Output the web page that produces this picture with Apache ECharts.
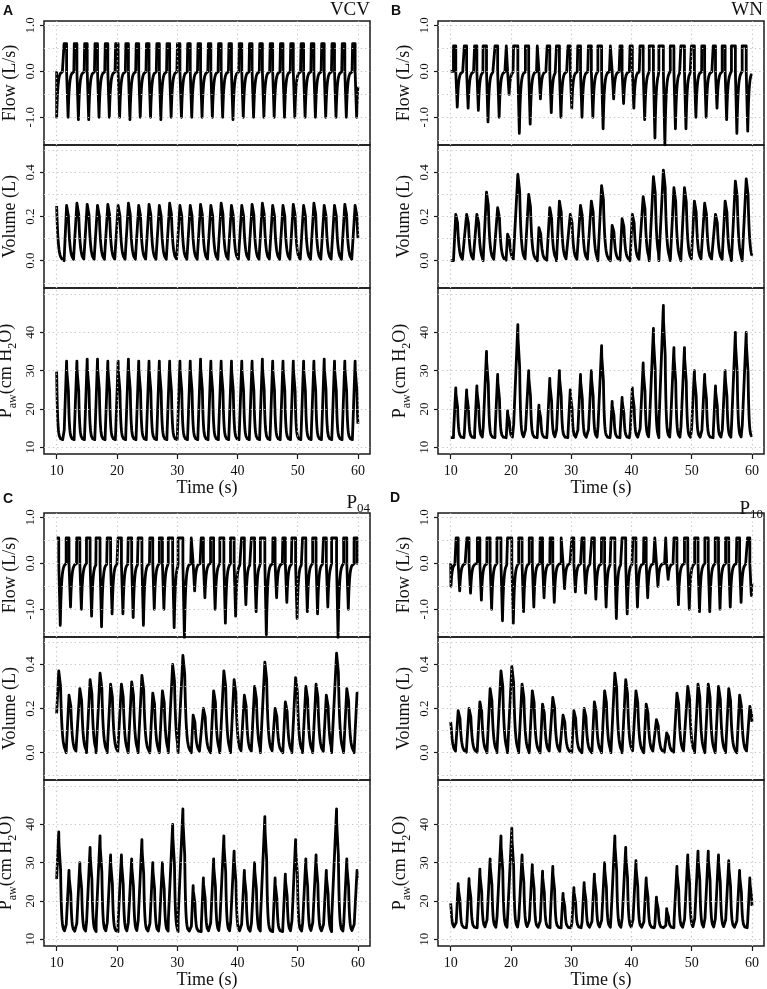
<!DOCTYPE html>
<html>
<head>
<meta charset="utf-8">
<script src="https://cdn.jsdelivr.net/npm/echarts@6/dist/echarts.min.js"></script>
<style>
html,body{margin:0;padding:0;background:#fff;}
#chart{width:767px;height:989px;}
</style>
</head>
<body>
<div id="chart"></div>
<script>
// ---------------- DATA ----------------
const timeTicks = [10, 20, 30, 40, 50, 60];
const flowTicks = [-1, 0, 1];
const volTicks = [0, 0.2, 0.4];
const pawTicks = [10, 20, 30, 40];
const flowGridVals = [-1.5, -1, -0.5, 0, 0.5, 1];
const volGridVals = [-0.1, 0, 0.1, 0.2, 0.3, 0.4, 0.5];
const pawGridVals = [10, 20, 30, 40, 50];

// Panel A (VCV): expiration-onset times (s), tidal volume peaks (L), Paw peaks (cmH2O), expiratory flow minima (L/s)
const A_exp  = [10.0, 11.9, 13.61, 15.32, 17.03, 18.74, 20.45, 22.16, 23.87, 25.58, 27.29, 29.0, 30.71, 32.42, 34.13, 35.84, 37.55, 39.26, 40.97, 42.68, 44.39, 46.1, 47.81, 49.52, 51.23, 52.94, 54.65, 56.36, 58.07, 59.78];
const A_vol  = [0.25, 0.25, 0.26, 0.255, 0.25, 0.255, 0.25, 0.26, 0.25, 0.255, 0.25, 0.26, 0.25, 0.25, 0.255, 0.25, 0.26, 0.25, 0.25, 0.255, 0.26, 0.25, 0.25, 0.255, 0.25, 0.26, 0.25, 0.25, 0.255, 0.25];
const A_paw  = [32.5, 32.5, 32.5, 33, 33, 32.5, 32.5, 33, 32.5, 32.5, 32.5, 32.5, 32.5, 32.5, 33, 32.5, 32.5, 32.5, 32.5, 32.5, 33, 32.5, 32.5, 32.5, 32.5, 32.5, 33, 32.5, 32.5, 32.5];
const A_flow = [-1.0, -1.0, -1.05, -1.05, -1.0, -1.0, -1.0, -1.05, -1.0, -1.0, -1.05, -1.0, -1.0, -1.0, -1.0, -1.0, -1.0, -1.05, -1.0, -1.0, -1.0, -1.0, -1.0, -1.0, -1.0, -1.0, -1.0, -1.0, -1.0, -1.0];

// Panel B (WN)
const B_exp  = [11.1, 12.9, 14.6, 16.2, 18.05, 19.7, 21.4, 23.2, 24.9, 26.7, 28.3, 30.1, 31.8, 33.6, 35.3, 37.05, 38.7, 40.4, 42.2, 43.9, 45.55, 47.3, 49.05, 50.7, 52.4, 54.2, 55.8, 57.5, 59.3];
const B_vol  = [0.21, 0.21, 0.21, 0.31, 0.24, 0.12, 0.39, 0.30, 0.15, 0.24, 0.27, 0.21, 0.25, 0.27, 0.34, 0.16, 0.19, 0.21, 0.29, 0.38, 0.41, 0.33, 0.33, 0.27, 0.26, 0.21, 0.27, 0.36, 0.37];
const B_paw  = [25.5, 25, 26, 35, 29, 19.5, 42, 30, 21, 28, 30, 25, 29, 30, 36.5, 22, 23, 25.5, 32, 41, 47, 36, 36, 30, 29, 26, 30, 40, 40];
const B_flow = [-0.78, -0.8, -0.85, -1.1, -1.0, -0.5, -1.35, -1.15, -0.6, -0.9, -1.0, -0.8, -1.0, -1.0, -1.25, -0.6, -0.7, -0.8, -1.05, -1.45, -1.6, -1.25, -1.25, -1.0, -1.0, -0.8, -1.05, -1.35, -1.3];

// Panel C (P04)
const C_exp  = [10.6, 12.3, 14.1, 15.8, 17.45, 19.2, 21.0, 22.7, 24.4, 26.2, 27.8, 29.5, 31.2, 32.9, 34.6, 36.3, 38.0, 39.7, 41.4, 43.1, 44.8, 46.5, 48.2, 49.9, 51.6, 53.3, 55.0, 56.7, 58.4, 60.1];
const C_vol  = [0.37, 0.26, 0.29, 0.33, 0.36, 0.31, 0.31, 0.32, 0.35, 0.27, 0.28, 0.40, 0.44, 0.17, 0.20, 0.28, 0.37, 0.33, 0.26, 0.30, 0.41, 0.20, 0.23, 0.34, 0.30, 0.31, 0.26, 0.45, 0.29, 0.27];
const C_paw  = [38, 28, 30, 34, 37, 32, 32, 31, 36, 30, 30, 40, 44, 24, 26, 31, 37, 33, 28, 30, 42, 26, 27, 36, 31, 32, 28, 44, 31, 28];
const C_flow = [-1.35, -0.95, -1.0, -1.15, -1.38, -1.1, -1.1, -1.18, -1.35, -1.0, -1.0, -1.4, -1.62, -0.6, -0.75, -1.0, -1.3, -1.15, -0.9, -1.05, -1.55, -0.75, -0.85, -1.2, -1.05, -1.1, -0.95, -1.62, -1.0, -0.95];

// Panel D (P10)
const D_exp  = [10.05, 11.5, 13.3, 15.1, 16.8, 18.6, 20.4, 22.1, 23.8, 25.5, 27.2, 28.9, 30.7, 32.4, 34.1, 35.8, 37.5, 39.3, 41.0, 42.7, 44.4, 46.1, 47.8, 49.6, 51.3, 53.0, 54.7, 56.4, 58.2, 59.9];
const D_vol  = [0.14, 0.19, 0.20, 0.23, 0.29, 0.37, 0.39, 0.31, 0.28, 0.22, 0.25, 0.17, 0.19, 0.20, 0.23, 0.28, 0.36, 0.33, 0.28, 0.22, 0.15, 0.09, 0.27, 0.30, 0.31, 0.31, 0.30, 0.29, 0.26, 0.21];
const D_paw  = [20.5, 24.5, 25.8, 28.3, 31, 37, 39, 32, 29.5, 27.8, 29, 22, 23.5, 24.8, 27, 30, 37, 34, 30.5, 26, 21, 18, 29, 32, 33, 33, 32, 30.5, 28, 26];
const D_flow = [-0.5, -0.6, -0.65, -0.8, -1.0, -1.25, -1.3, -1.05, -0.95, -0.75, -0.85, -0.55, -0.62, -0.65, -0.78, -0.95, -1.2, -1.1, -0.95, -0.75, -0.5, -0.35, -0.9, -1.0, -1.05, -1.05, -1.0, -0.95, -0.85, -0.7];

// inspiratory flow plateau (L/s) and PEEP (cmH2O) per panel
const inspFlow = [0.6, 0.55, 0.55, 0.55];
const peepVals = [12, 12.5, 12, 13];
const flowDecay = [1, 0.779, 0.607, 0.472, 0.368, 0.287, 0.223, 0.174, 0.135, 0.105, 0.082, 0.064, 0.050, 0.039, 0.030, 0.024, 0.018, 0.014, 0.011, 0.009, 0.007, 0.005, 0.004, 0.003, 0.002, 0];
const volDecay  = [1, 0.819, 0.670, 0.549, 0.449, 0.368, 0.301, 0.247, 0.202, 0.165, 0.135, 0.111, 0.091, 0.074, 0.061, 0.050, 0.041, 0.033, 0.027, 0.022, 0.018, 0.015, 0.012, 0.010, 0.008, 0];
const pawDecay  = [1, 0.717, 0.513, 0.368, 0.264, 0.189, 0.135, 0.097, 0.069, 0.050, 0.036, 0.026, 0.018, 0.013, 0.009, 0.007, 0.005, 0];
const panelTitles = ['VCV', 'WN', '{p|P}{s|04}', '{p|P}{s|10}'];
const panelLetters = ['A', 'B', 'C', 'D'];

// ---------------- BUILD ----------------
const T0 = 10, T1 = 60, PAUSE = 0.25, DT = 0.05;

function clip(pts) {
  const out = [];
  for (let i = 0; i < pts.length; i++) {
    const [x, y] = pts[i];
    if (x >= T0 && x <= T1) {
      if (out.length === 0 && i > 0 && pts[i - 1][0] < T0) {
        const [px, py] = pts[i - 1];
        const f = (T0 - px) / (x - px);
        out.push([T0, py + (y - py) * f]);
      }
      out.push([x, y]);
    } else if (x > T1 && out.length) {
      const [px, py] = pts[i - 1];
      if (px <= T1 && x > px) {
        const f = (T1 - px) / (x - px);
        out.push([T1, py + (y - py) * f]);
      }
      break;
    }
  }
  return out;
}

function shapeAt(arr, k) { return k < arr.length ? arr[k] : 0; }

function buildPanel(exp, vt, ppk, fmin, fin, peep) {
  const flow = [], vol = [], paw = [];
  const n = exp.length;
  const starts = exp.map((t, i) => t - PAUSE - vt[i] / fin);
  if (starts[0] > T0) { flow.push([T0, 0]); vol.push([T0, 0]); paw.push([T0, peep]); }
  const kMax = Math.max(flowDecay.length, volDecay.length, pawDecay.length);
  for (let i = 0; i < n; i++) {
    const t0 = starts[i], ti = vt[i] / fin, tE = exp[i];
    const tNext = i + 1 < n ? starts[i + 1] : T1 + 1;
    const P = ppk[i], V = vt[i], F = fmin[i];
    const pl = P - (P - peep) * 0.12;
    flow.push([t0, 0], [t0, fin], [t0 + ti, fin], [t0 + ti, 0], [tE, 0], [tE, F]);
    vol.push([t0, 0], [t0 + ti, V], [tE, V * 0.99]);
    paw.push([t0, peep], [t0 + 0.02, peep + (P - pl)], [t0 + ti, P], [t0 + ti + 0.03, pl], [tE, pl - 0.3]);
    for (let k = 1; k < kMax; k++) {
      const t = tE + k * DT;
      if (t >= tNext) break;
      flow.push([t, F * shapeAt(flowDecay, k)]);
      vol.push([t, V * 0.99 * shapeAt(volDecay, k)]);
      paw.push([t, peep + (pl - 0.3 - peep) * shapeAt(pawDecay, k)]);
    }
  }
  return [clip(flow), clip(vol), clip(paw)];
}

const panelData = [
  buildPanel(A_exp, A_vol, A_paw, A_flow, inspFlow[0], peepVals[0]),
  buildPanel(B_exp, B_vol, B_paw, B_flow, inspFlow[1], peepVals[1]),
  buildPanel(C_exp, C_vol, C_paw, C_flow, inspFlow[2], peepVals[2]),
  buildPanel(D_exp, D_vol, D_paw, D_flow, inspFlow[3], peepVals[3])
];

// ---------------- LAYOUT ----------------
const SERIF = "'Liberation Serif', 'Times New Roman', serif";
const INK = '#111';
const panelPos = [
  { left: 44, top: 21 }, { left: 438, top: 21 },
  { left: 44, top: 513 }, { left: 438, top: 513 }
];
const PW = 326;
const rows = [
  { off: 0, h: 124, min: -1.602, max: 1.093, ticks: flowTicks, lines: flowGridVals, dec: 1, name: 'Flow (L/s)' },
  { off: 124, h: 143, min: -0.1235, max: 0.5235, ticks: volTicks, lines: volGridVals, dec: 1, name: 'Volume (L)' },
  { off: 267, h: 166, min: 8.25, max: 51.56, ticks: pawTicks, lines: pawGridVals, dec: 0, name: '{n|P}{s|aw}{n|(cm H}{s|2}{n|O)}' }
];

const grids = [], xAxes = [], yAxes = [], series = [];
panelPos.forEach((pp, p) => {
  rows.forEach((r, ri) => {
    const gi = p * 3 + ri;
    const isBottom = ri === 2;
    grids.push({
      left: pp.left, top: pp.top + r.off, width: PW, height: r.h,
      show: true, borderColor: '#1a1a1a', borderWidth: 1.5, backgroundColor: 'transparent',
      containLabel: false, outerBoundsMode: 'none'
    });
    xAxes.push({
      type: 'value', gridIndex: gi, min: 7.9, max: 62,
      splitLine: { show: false }, axisLine: { show: false },
      axisTick: { show: isBottom, customValues: timeTicks, length: 5, lineStyle: { color: '#1a1a1a', width: 1.2 } },
      axisLabel: { show: isBottom, customValues: timeTicks, margin: 10, fontFamily: SERIF, fontSize: 14, color: INK },
      name: isBottom ? 'Time (s)' : '', nameLocation: 'middle', nameGap: 21,
      nameTextStyle: { fontFamily: SERIF, fontSize: 18, color: INK }
    });
    yAxes.push({
      type: 'value', gridIndex: gi, min: r.min, max: r.max,
      splitLine: { show: false }, axisLine: { show: false },
      axisTick: { show: true, customValues: r.ticks, length: 4, lineStyle: { color: '#1a1a1a', width: 1.2 } },
      axisLabel: {
        customValues: r.ticks, rotate: 90, margin: 7, fontFamily: SERIF, fontSize: 13, color: INK,
        formatter: v => Number(v).toFixed(r.dec)
      },
      name: r.name, nameLocation: 'middle', nameRotate: 90, nameGap: 25,
      nameTextStyle: {
        fontFamily: SERIF, fontSize: 18, color: INK,
        rich: {
          n: { fontFamily: SERIF, fontSize: 18, lineHeight: 22, color: INK },
          s: { fontFamily: SERIF, fontSize: 12, lineHeight: 26, verticalAlign: 'bottom', color: INK }
        }
      }
    });
    series.push({
      type: 'line', xAxisIndex: gi, yAxisIndex: gi,
      data: panelData[p][ri], showSymbol: false, symbol: 'none',
      lineStyle: { color: '#000', width: 2.8, join: 'round' }, clip: true, animation: false,
      emphasis: { disabled: true }, z: 2,
      markLine: {
        silent: true, symbol: ['none', 'none'], animation: false,
        label: { show: false },
        lineStyle: { color: '#c4c4c4', type: [1.2, 3.2], width: 1.2 },
        emphasis: { disabled: true },
        data: r.lines.map(v => ({ yAxis: v })).concat(timeTicks.map(v => ({ xAxis: v })))
      }
    });
  });
});

const titleRich = {
  p: { fontFamily: SERIF, fontSize: 19, color: INK, lineHeight: 20 },
  s: { fontFamily: SERIF, fontSize: 13, color: INK, lineHeight: 24, verticalAlign: 'bottom' }
};
const titles = [
  { text: panelLetters[0], left: 3, top: 4 },
  { text: panelLetters[1], left: 391, top: 4 },
  { text: panelLetters[2], left: 3, top: 492 },
  { text: panelLetters[3], left: 390, top: 491 }
].map(t => Object.assign(t, { padding: 0, textStyle: { fontFamily: "'Liberation Sans', Arial, sans-serif", fontWeight: 'bold', fontSize: 14, color: INK } }));
titles.push(
  { text: panelTitles[0], right: 397, top: 1, padding: 0, textStyle: { fontFamily: SERIF, fontSize: 19, fontWeight: 'normal', color: INK } },
  { text: panelTitles[1], right: 4, top: 1, padding: 0, textStyle: { fontFamily: SERIF, fontSize: 19, fontWeight: 'normal', color: INK } },
  { text: panelTitles[2], right: 397, top: 491, padding: 0, textStyle: { fontWeight: 'normal', rich: titleRich } },
  { text: panelTitles[3], right: 4, top: 497, padding: 0, textStyle: { fontWeight: 'normal', rich: titleRich } }
);

const chart = echarts.init(document.getElementById('chart'), null, { renderer: 'canvas' });
chart.setOption({
  animation: false,
  backgroundColor: '#fff',
  title: titles,
  grid: grids,
  xAxis: xAxes,
  yAxis: yAxes,
  series: series
});
</script>
</body>
</html>
